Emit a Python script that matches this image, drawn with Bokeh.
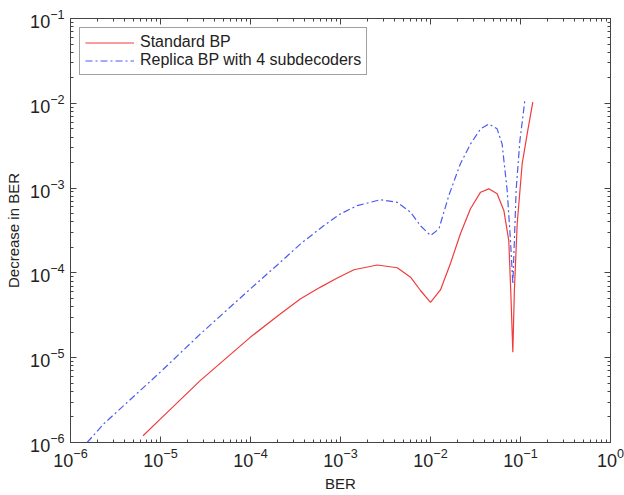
from bokeh.plotting import figure
from bokeh.models import Range1d, FixedTicker, LogAxis, Legend, LegendItem
from bokeh.embed import file_html
from bokeh.resources import INLINE

# Standard BP
std_ber = [6.4e-6, 1.0e-5, 2.78e-5, 1.0e-4, 2.0e-4, 3.6e-4, 6.0e-4, 9.2e-4, 1.41e-3,
           2.56e-3, 4.27e-3, 6.0e-3, 7.74e-3, 1.0e-2, 1.29e-2, 1.67e-2, 2.15e-2,
           2.78e-2, 3.6e-2, 4.45e-2, 5.5e-2, 6.53e-2, 7.41e-2, 7.79e-2, 8.22e-2,
           8.55e-2, 9.19e-2, 1.044e-1, 1.205e-1, 1.37e-1]
std_dec = [1.2e-6, 1.9e-6, 5.4e-6, 1.75e-5, 3.1e-5, 4.95e-5, 6.8e-5, 8.7e-5, 1.09e-4,
           1.24e-4, 1.15e-4, 8.9e-5, 6.2e-5, 4.5e-5, 6.3e-5, 1.3e-4, 2.9e-4,
           5.7e-4, 8.95e-4, 9.8e-4, 8.6e-4, 5.45e-4, 2.4e-4, 6.2e-5, 1.16e-5,
           6.2e-5, 3.8e-4, 1.94e-3, 4.8e-3, 1.03e-2]

# Replica BP with 4 subdecoders
rep_ber = [1.53e-6, 2.34e-6, 1.0e-5, 2.78e-5, 1.0e-4, 2.0e-4, 3.6e-4, 6.5e-4, 1.0e-3,
           1.53e-3, 2.78e-3, 4.27e-3, 6.0e-3, 7.74e-3, 1.0e-2, 1.24e-2, 1.6e-2,
           2.15e-2, 2.78e-2, 3.6e-2, 4.45e-2, 5.5e-2, 6.25e-2, 7.11e-2, 7.74e-2,
           8.22e-2, 8.55e-2, 8.94e-2, 9.84e-2, 1.12e-1]
rep_dec = [1.0e-6, 1.66e-6, 6.8e-6, 1.91e-5, 6.5e-5, 1.25e-4, 2.2e-4, 3.6e-4, 4.97e-4,
           6.2e-4, 7.3e-4, 6.8e-4, 5.2e-4, 3.6e-4, 2.76e-4, 3.3e-4, 8.2e-4,
           1.94e-3, 3.3e-3, 5.0e-3, 5.7e-3, 5.0e-3, 3.3e-3, 9.4e-4, 2.4e-4,
           7.4e-5, 2.4e-4, 9.4e-4, 3.6e-3, 1.1e-2]

x_major = [10.0 ** k for k in range(-6, 1)]
y_major = [10.0 ** k for k in range(-6, 0)]
x_minor = [m * 10.0 ** k for k in range(-6, 0) for m in range(2, 10)]
y_minor = [m * 10.0 ** k for k in range(-6, -1) for m in range(2, 10)]

FONT = "Liberation Sans"
AX = "#444444"

p = figure(width=624, height=495, x_axis_type="log", y_axis_type="log",
           x_range=Range1d(1e-6, 1), y_range=Range1d(1e-6, 1e-1),
           output_backend="svg", toolbar_location=None,
           min_border_left=70, min_border_right=14, min_border_top=18, min_border_bottom=53)
p.xgrid.visible = False
p.ygrid.visible = False
p.outline_line_color = AX
p.background_fill_color = "white"
p.border_fill_color = "white"

def style_axis(ax, ticks, minors, labels=True):
    ax.ticker = FixedTicker(ticks=ticks, minor_ticks=minors)
    ax.axis_line_color = AX
    ax.major_tick_line_color = AX
    ax.minor_tick_line_color = AX
    ax.major_tick_in = 6
    ax.major_tick_out = 0
    ax.minor_tick_in = 3
    ax.minor_tick_out = 0
    ax.major_label_text_font = FONT
    ax.major_label_text_font_size = "18px"
    ax.major_label_text_color = "#222222"
    ax.axis_label_text_font = FONT
    ax.axis_label_text_font_size = "15px"
    ax.axis_label_text_font_style = "normal"
    ax.axis_label_text_color = "#222222"
    if not labels:
        ax.major_label_text_font_size = "2px"
        ax.major_label_text_color = None
        ax.major_label_standoff = 0

style_axis(p.xaxis[0], x_major, x_minor)
style_axis(p.yaxis[0], y_major, y_minor)
p.xaxis[0].axis_label = "BER"
p.yaxis[0].axis_label = "Decrease in BER"
p.xaxis[0].major_label_standoff = 5
p.yaxis[0].major_label_standoff = 6

top = LogAxis()
right = LogAxis()
style_axis(top, x_major, x_minor, labels=False)
style_axis(right, y_major, y_minor, labels=False)
p.add_layout(top, "above")
p.add_layout(right, "right")

r1 = p.line(std_ber, std_dec, line_color="#f03c3c", line_width=1.2)
r2 = p.line(rep_ber, rep_dec, line_color="#4a5cf0", line_width=1.2, line_dash="7 3 2 3")

legend = Legend(items=[LegendItem(label="Standard BP", renderers=[r1]),
                       LegendItem(label="Replica BP with 4 subdecoders", renderers=[r2])],
                location="top_left", margin=9, padding=5, spacing=0,
                glyph_width=49, label_standoff=6, label_height=17, glyph_height=17,
                label_text_font=FONT, label_text_font_size="16px", label_text_color="#222222",
                border_line_color=AX, border_line_width=1, background_fill_alpha=1)
p.add_layout(legend, "center")

open("out.html", "w").write(file_html(p, INLINE))
